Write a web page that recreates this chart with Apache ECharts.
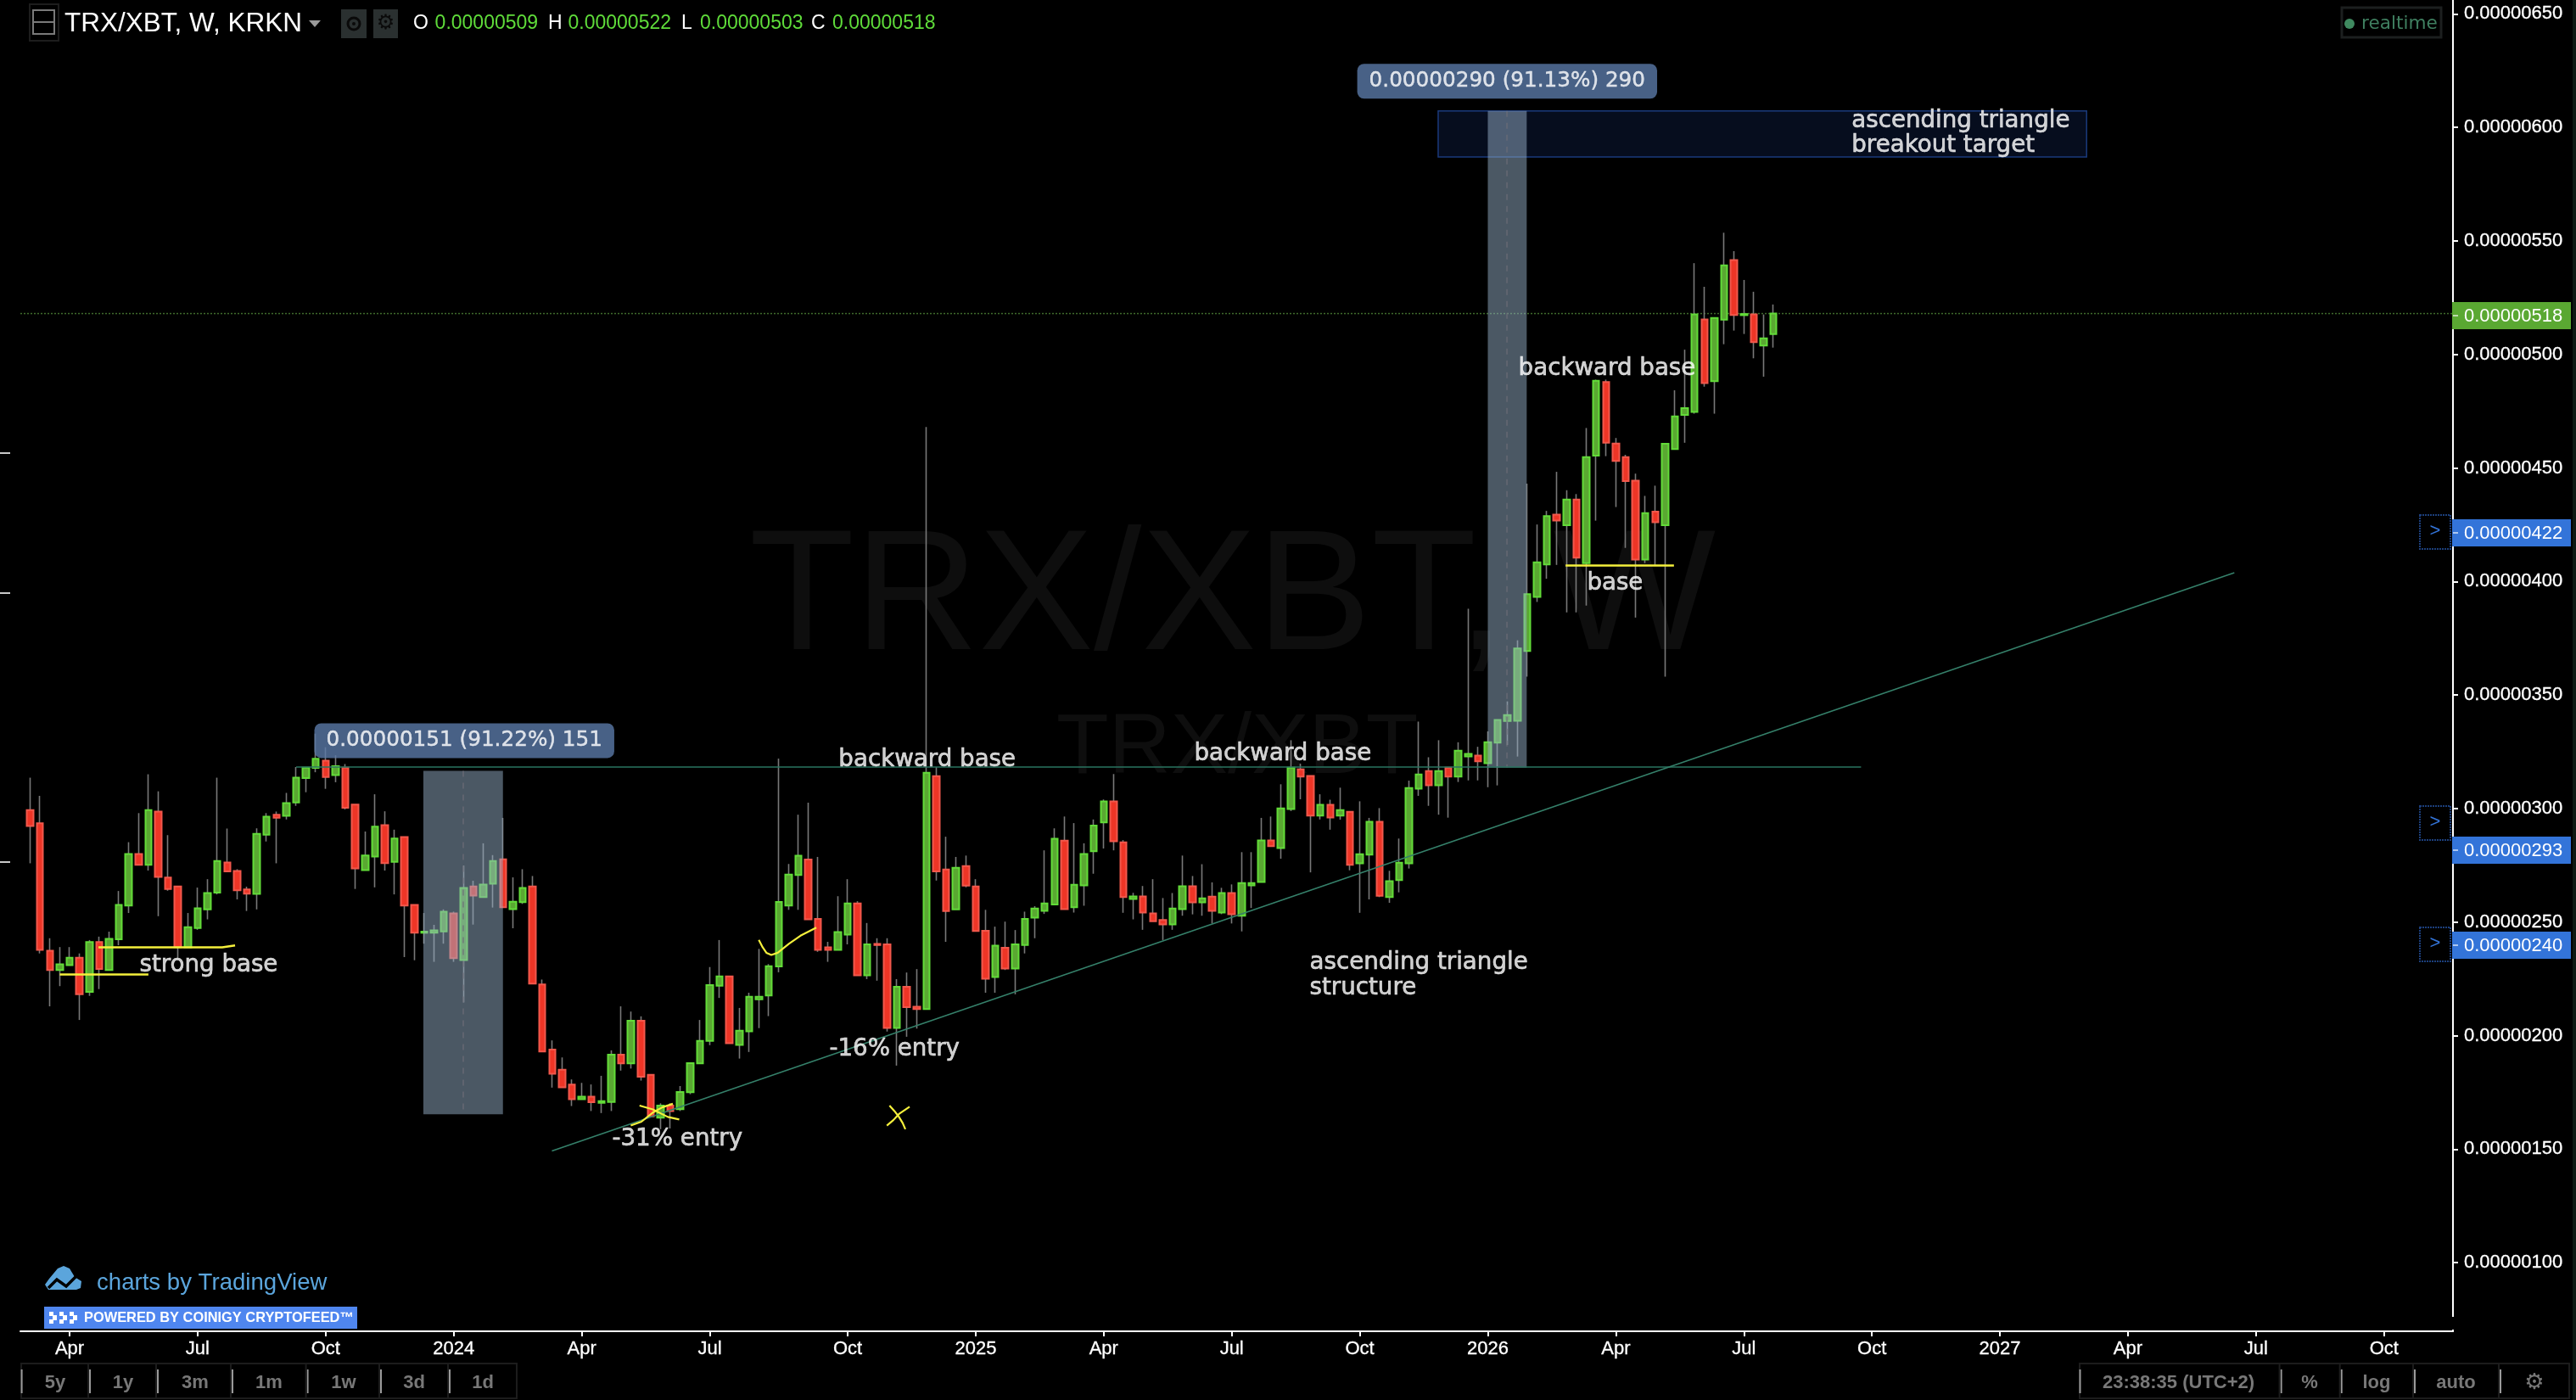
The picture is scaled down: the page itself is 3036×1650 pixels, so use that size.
<!DOCTYPE html>
<html><head><meta charset="utf-8">
<style>html,body{margin:0;padding:0;background:#000}#c{width:3036px;height:1650px}</style>
<script src="https://cdn.jsdelivr.net/npm/echarts@6/dist/echarts.min.js"></script>
</head><body><div id="c"></div>
<script>
// prices in units of 0.00000001 XBT; one candle per week
const opens = [
299.3,293.5,237.4,228.9,231,234.3,219.3,241.2,228.9,242.4,
257.3,280,275.2,298.7,269.6,265.7,238.9,247.4,255.6,263,
276.3,272.5,264.4,262.4,288.5,297.3,296.8,302.7,313.4,317.9,
321.1,314.7,318,301.8,272.9,278.9,292.7,276.5,287.5,257.6,
245.3,245.3,245.9,253.8,233.3,265.7,261,266.9,277.7,255.7,
258.8,265.7,222.5,193.9,185,178.4,172,173.1,170.4,170.8,
191.6,187.8,206.6,182.7,163.9,169.2,167.6,175.1,187.8,197.7,
222,226.1,195.9,201.9,216,217.7,230.5,257.3,270.7,277.6,
251.4,238.9,237.8,244.5,258.2,226.6,240.4,240.2,203.4,221.5,
212.7,211.7,314.3,273.2,255.6,274.7,265.7,246.2,225.8,238.7,
229.5,239.9,252,255,257.8,285.9,256.5,266.2,281.2,293.9,
303.2,285.1,260.2,261.3,253.8,250.9,249,255.7,265.8,258.7,
261.2,254.2,262.8,252.8,266.2,267.7,286,282.6,299.8,317.3,
314.4,296.9,301.7,296.9,298.6,275.9,279.7,294.2,261,268.5,
275.9,308.8,316.5,310.3,318,314.1,323,323.3,320,329,
338.6,338.7,369.4,393.2,407.5,429.5,424.8,436.1,408.1,455.4,
487.8,460.8,454.8,444.4,409.7,430.8,424.8,458.3,473.4,474.7,
515.4,488.2,515.3,541.6,517.3,517.6,503.9,509];
const closes = [
292.3,237.8,228.9,231.4,234.3,218.2,241.2,229.4,242.6,257.6,
280,275.2,299.3,269.9,264.6,239,247.8,256.1,262.8,276.9,
272.3,264,262.5,288.9,296.4,296,302.4,313.6,318,321.9,
313.9,318.7,300.4,273.6,279.3,292,276,286.8,257.3,245.3,
245.8,246.4,254.6,234.1,265,261.7,266.5,276.9,256.5,259,
265,222.9,193,183.2,177.2,172,173.1,170.7,171.2,191.6,
187.8,206.6,181.9,164.4,169.2,166.8,175.2,187.9,197.7,222.3,
226.1,196.7,202.2,217.1,217.1,230.6,258.9,270.9,279.2,251.2,
237.8,237.8,245.6,258.2,226.6,240.2,239.9,203.4,221.5,212.5,
211.7,315.8,272.3,254.9,273.9,266.1,246.1,225.1,239.6,229.5,
240.2,251.4,256,258.2,286.7,255.7,266.4,280,292.5,303.2,
285.6,261,261.3,254.2,250.4,249,256,265.8,258.7,260.5,
255,262.8,253.5,267.2,267.2,286,283.4,300.1,318,314.1,
296.9,301.7,296.1,299.3,275.2,279.9,294.2,261.6,268,276.2,
309,315,310.3,316.5,314.1,325.5,324.1,320.8,329.2,339,
341.2,370.5,394.4,408.4,428.8,426.8,436.1,410.5,454.8,488.4,
461.1,453.1,444.2,409.7,430.1,426.1,460.7,472.7,476.4,517.6,
487.4,516.1,539.2,517.4,517.8,505.4,507.1,518];
const highs = [
313.6,305.6,242.9,239,239,236.2,242.1,243.6,245.8,263.7,
285.2,298,315.1,307.6,288.3,265.7,254,265.2,268.9,313.6,
291.2,273.3,265.6,291.3,298,298.7,306.9,318.3,318.3,333,
327,323.5,319.6,301.8,289.9,306.3,298.8,290.7,287.5,257.6,
254,248.8,255.6,254.6,274.9,268.2,284.7,279.5,295.9,269.7,
273.3,270.3,224.7,197.9,190.4,180.7,179.2,178.5,182.3,193.5,
212.9,210.6,208.5,182.7,170.2,170.2,177.8,187.9,206.9,230.2,
242.1,226.1,212.2,218.9,238.2,231.5,322,275.6,297.3,302.6,
278.7,241.3,261.4,268.9,259.2,249.6,242.9,242.9,224.9,227.8,
229.3,468,318.3,287.6,278.7,279.3,268.9,255.4,248,250.2,
246.5,254.6,257,281.6,291.3,296.5,293.6,284.7,295.2,304,
315.2,286.1,262.9,265.9,268.9,260.6,262.8,279.3,270.3,275.5,
267.5,265.1,266.6,280.8,280.8,295.9,296.5,310.7,330.1,319.8,
314.4,306.3,303.9,309.2,298.6,303.2,295.9,300.2,272.6,286.8,
312.3,338.3,322.6,330.1,318,329.2,388,327.2,334,339,
347.2,374.1,443.1,425.1,431.1,448.3,440.2,438.5,467.6,488.9,
488.9,463.2,455.8,447.5,437.7,442.2,460.7,484.2,502.1,540.2,
529.8,516.1,553.6,545.5,532.8,527.6,517.6,522];
const lows = [
275.9,236.2,212.9,221.8,230.9,206.9,217.5,220.5,228.9,239.8,
254,275.2,272.7,252.6,263.8,234.2,238.9,246.6,251.2,262.2,
272.3,260,254.9,255.6,285.5,275.9,295.2,301.2,307.2,316,
308.7,311.6,299.6,264.6,272.9,265.3,272.7,262.2,234.6,233.2,
240.5,232.5,240.5,232.5,214.6,248.9,261,256.4,256.5,247.3,
258,222.9,193,177.1,177.2,169,172,166.8,165.9,166.8,
184.6,185.5,180.2,164.2,158.8,159.1,166.8,174.2,187.8,195.8,
216.6,196.7,189.9,192.8,203.3,208.6,227.9,255.4,255.4,251.2,
236.9,232.5,237.8,240.2,226.6,224.9,224.2,201.8,186.8,199.5,
203.1,211.7,268.3,241.3,255.6,265.3,246.1,218.9,218.9,228.9,
218.2,236.2,242.9,253.6,257.6,255.7,254.2,257.2,271.3,282.4,
281.6,254.1,251.2,246.6,250.4,242.1,246.6,252.8,253.4,252.8,
249.4,253.5,249.4,245.9,256.2,267.7,283.4,277.9,298.9,304.1,
271.9,295.2,290.7,295.1,272.8,254.1,260,261,258.5,263.1,
273.6,305.6,301.2,297.3,296,311.7,312.4,312.4,309.4,310.2,
328,322.9,358.1,391,401.2,407.3,386.4,386.4,389.4,426.8,
455.2,432.8,414.8,384.1,408.1,406.8,358.1,458.3,461.1,473.9,
485.8,473.9,504.5,510.5,509,498.3,490.2,503];

const seriesStart = '2023-02-27';      // leading empty week of the time scale
const weekCount = 248;
const monthNames = {3:'Apr',6:'Jul',9:'Oct'};
const tickValues = [100,150,200,250,300,350,400,450,500,550,600,650];
const tickLabels = ['0.00000100','0.00000150','0.00000200','0.00000250','0.00000300','0.00000350','0.00000400','0.00000450','0.00000500','0.00000550','0.00000600','0.00000650'];
const rangeButtons = ['5y','1y','3m','1m','1w','3d','1d'];

// annotation anchors: [week position, price]
const levelLine = [[28,318.3],[186.9,318.3]];
const trendLine = [[53.97,149.2],[224.8,403.9]];
const lastPriceLine = [[0,518],[247,518]];
const strongBaseLow = [[4,226.9],[13,226.9]];
const strongBaseHigh = [[7.93,238.9],[20.5,238.9],[21.8,239.7]];
const baseLine = [[156.9,407],[167.9,407]];
const swoosh = [[74.98,242.2],[75.37,238.9],[75.75,236.5],[76.25,235.5],[76.9,236.5],[78.06,240.5],[79.21,244],[80.82,247.6]];
const crossA1 = [[62.87,169.2],[64.21,167.5],[65.74,164.2],[66.9,163.1]];
const crossA2 = [[61.98,160.4],[63.06,162.1],[64.21,166.1],[65.17,168.4],[66.25,170]];
const crossB1 = [[88.25,169.2],[88.75,166.8],[89.21,164.2],[89.59,161.5],[89.86,158.8]];
const crossB2 = [[87.98,160.4],[88.64,162.8],[89.21,165.5],[90.29,168.7]];
const measureLeft = [[40.92,316.6],[49,165.4]];
const measureRight = [[149.0,607.2],[152.95,318]];
const targetBox = [[143.96,607.2],[209.8,587]];
const notes = [
 [12.06,231.1,'strong base'],[60.05,154.2,'-31% entry'],[82.1,193.9,'-16% entry'],
 [83.04,321.4,'backward base'],[119.15,323.8,'backward base'],[152.07,493.5,'backward base'],
 [159.03,399.2,'base'],[130.87,232.0,'ascending triangle'],[130.87,220.8,'structure'],
 [185.9,602.8,'ascending triangle'],[185.9,592.0,'breakout target']];
const measureLabels = [[29.81,329.9,'0.00000151 (91.22%) 151'],[135.7,620.3,'0.00000290 (91.13%) 290']];

const categories = [];
{ const d = new Date(seriesStart+'T00:00:00Z');
  for (let i=0;i<weekCount;i++){ categories.push(d.toISOString().slice(0,10)); d.setUTCDate(d.getUTCDate()+7); } }
function quarterLabel(s){
  const [y,m,day]=s.split('-').map(Number);
  if (day>7 || (m-1)%3!==0) return '';
  return m===1 ? String(y) : monthNames[m-1];
}
const isQuarter = (i,v)=>quarterLabel(v)!=='';

// the first category is an empty leading week, so candle i sits on category i+1
const wickData = opens.map((o,i)=>[i+1,o,closes[i],lows[i],highs[i]]);
const bodyData = opens.map((o,i)=>[i+1,o,closes[i],Math.min(o,closes[i]),Math.max(o,closes[i])]);

const UI = 'Liberation Sans, Arial, sans-serif';
const NOTE = '"DejaVu Sans", sans-serif';
const lineS = (pts,color,width,type,z)=>({type:'line',xAxisIndex:1,yAxisIndex:0,data:pts,showSymbol:false,symbol:'none',silent:true,z:z||8,animation:false,
  lineStyle:{color,width,type:type||'solid'}});
const areaS = (box,color,z,border)=>({type:'line',xAxisIndex:1,yAxisIndex:0,data:[],z,silent:true,animation:false,
  markArea:{silent:true,z,animation:false,itemStyle:{color,borderColor:border||'transparent',borderWidth:border?1.5:0},
    data:[[{xAxis:box[0][0],yAxis:box[0][1]},{xAxis:box[1][0],yAxis:box[1][1]}]]}});

const series = [
 {type:'candlestick',xAxisIndex:0,yAxisIndex:0,data:wickData,encode:{x:0,y:[1,2,3,4]},barWidth:1,z:2,silent:true,animation:false,
  itemStyle:{color:'#787878',color0:'#787878',borderColor:'#787878',borderColor0:'#787878',borderWidth:1.6}},
 {type:'candlestick',xAxisIndex:0,yAxisIndex:0,data:bodyData,encode:{x:0,y:[1,2,3,4]},barWidth:8,z:3,silent:true,animation:false,
  itemStyle:{color:'#5aa832',color0:'#ee3526',borderColor:'#62dc38',borderColor0:'#f2584c',borderWidth:2}},
 areaS(targetBox,'#060d1e',1,'#1a3a7c'),
 areaS(measureLeft,'rgba(150,176,200,0.5)',6),
 areaS(measureRight,'rgba(150,176,200,0.5)',6),
 lineS([[44.97,316.6],[44.97,165.4]],'rgba(110,110,120,0.6)',2,[7,7],7),
 lineS([[150.95,607.2],[150.95,318]],'rgba(110,110,120,0.6)',2,[7,7],7),
 lineS(lastPriceLine,'#3f6b2c',1.5,[2,2],1),
 lineS(levelLine,'#2a7560',1.6,'solid',8),
 lineS(trendLine,'#35806a',1.6,'solid',8),
 lineS(strongBaseLow,'#f5f03c',2.5),lineS(strongBaseHigh,'#f5f03c',2.5),lineS(baseLine,'#f5f03c',2.5),
 lineS(swoosh,'#f5f03c',2.2),lineS(crossA1,'#f5f03c',2.2),lineS(crossA2,'#f5f03c',2.2),
 lineS(crossB1,'#f5f03c',2.2),lineS(crossB2,'#f5f03c',2.2),
 {type:'scatter',xAxisIndex:1,yAxisIndex:0,data:notes,symbolSize:1,itemStyle:{color:'transparent'},silent:true,z:12,animation:false,
  label:{show:true,position:'right',distance:0,color:'#fff',textBorderColor:'#fff',textBorderWidth:0.6,fontFamily:NOTE,fontSize:27.7,formatter:p=>p.value[2]}},
 {type:'scatter',xAxisIndex:1,yAxisIndex:0,data:measureLabels,symbolSize:1,itemStyle:{color:'transparent'},silent:true,z:12,animation:false,
  label:{show:true,position:'right',distance:0,color:'#fff',textBorderColor:'#fff',textBorderWidth:0.4,fontFamily:NOTE,fontSize:24.7,backgroundColor:'#5a79a8',borderRadius:8,padding:[8,14],formatter:p=>p.value[2]}}
];

// interface furniture around the chart
const txt=(x,y,text,fill,size,opt)=>Object.assign({type:'text',z:100,silent:true,style:{x,y,text,fill,font:(opt&&opt.weight||'normal')+' '+size+'px '+(opt&&opt.fam||UI),textAlign:(opt&&opt.align)||'left',textVerticalAlign:(opt&&opt.va)||'middle'}},opt&&opt.z?{z:opt.z}:{});
const rect=(x,y,w,h,fill,opt)=>({type:'rect',z:(opt&&opt.z)||99,silent:true,shape:{x,y,width:w,height:h,r:(opt&&opt.r)||0},style:{fill:fill||'transparent',stroke:(opt&&opt.stroke)||null,lineWidth:(opt&&opt.lw)||0,lineDash:(opt&&opt.dash)||null}});
const g=[];
// watermarks
g.push({type:'text',z:0,silent:true,style:{x:883,y:811,text:'TRX/XBT, W',fill:'#0e0e0e',font:'203px '+UI,textVerticalAlign:'bottom'}});
g.push({type:'text',z:0,silent:true,style:{x:1245,y:934,text:'TRX/XBT',fill:'#0e0e0e',font:'101px '+UI,textVerticalAlign:'bottom'}});
// header
g.push(rect(35,5,34,43,null,{stroke:'#1d1d1d',lw:2}));
g.push(rect(39,12,25,28,null,{stroke:'#7a7a7a',lw:2}));
g.push(rect(39,25,25,2,'#7a7a7a'));
g.push(txt(76,28,'TRX/XBT, W, KRKN','#fff',31.5));
g.push({type:'polygon',z:100,silent:true,shape:{points:[[364,24],[378,24],[371,32]]},style:{fill:'#9a9a9a'}});
g.push(rect(402,11,30,34,'#2a3030'));
g.push({type:'circle',z:100,silent:true,shape:{cx:417,cy:28,r:7},style:{fill:'transparent',stroke:'#0a0a0a',lineWidth:3}});
g.push({type:'circle',z:100,silent:true,shape:{cx:417,cy:28,r:2},style:{fill:'#0a0a0a'}});
g.push(rect(440,11,29,34,'#2a3030'));
g.push(txt(454.5,28,'\u2699','#0a0a0a',24,{align:'center',fam:NOTE}));
[[487,'O'],[646,'H'],[803,'L'],[956,'C']].forEach(a=>g.push(txt(a[0],28,a[1],'#fff',23)));
[[512.6,'0.00000509'],[669.5,'0.00000522'],[825,'0.00000503'],[981,'0.00000518']].forEach(a=>g.push(txt(a[0],28,a[1],'#5fdc3a',23)));
// realtime
g.push(rect(2760,9,117,35,null,{stroke:'#1c1f1f',lw:3}));
g.push({type:'circle',z:100,silent:true,shape:{cx:2769,cy:28,r:6},style:{fill:'#3f8a60'}});
g.push(txt(2783,28,'realtime','#3f7f60',21.6,{fam:NOTE}));
// price flags on the axis
[[356,32,'#5aa832','0.00000518'],[612,32,'#3374d9','0.00000422'],[986,32,'#3374d9','0.00000293'],[1098,32,'#3374d9','0.00000240']].forEach(a=>{
  g.push(rect(2890,a[0],140,a[1],a[2]));
  g.push(rect(2891,a[0]+15,6,2,'rgba(255,255,255,0.6)',{z:100}));
  g.push(txt(2904,a[0]+16.5,a[3],'#fff',22));
});
[607,950,1093].forEach(y=>{
  g.push(rect(2852,y,36,40,null,{stroke:'#1c3f7c',lw:2,dash:[2,1]}));
  g.push(txt(2870,y+19,'>','#3374d9',22,{align:'center'}));
});
// gap between price axis and time axis
g.push(rect(2888,1552,6,15,'#000'));
// left edge marks
[534,699,1016].forEach(y=>g.push(rect(0,y-1,12,2,'#c8c8c8')));
// logo
g.push({type:'polygon',z:100,silent:true,shape:{points:[[57,1520],[53,1514],[58,1507],[68,1495],[75,1492],[82,1495],[88,1505],[96,1510],[95,1518],[90,1520]]},style:{fill:'#5ba5dc'}});
g.push({type:'polyline',z:101,silent:true,shape:{points:[[57,1518],[67,1508],[78,1516],[91,1503]]},style:{stroke:'#000',lineWidth:3.5,fill:null}});
g.push(txt(114,1512,'charts by TradingView','#5ba5dc',27.6));
g.push(rect(52,1540,369,26,'#4f86ef'));
[[58,1],[62,-1],[70,1],[74,-1],[82,1],[86,-1]].forEach(a=>{
  g.push(rect(a[0],1546+(a[1]>0?0:4),5,5,'#fff',{z:100}));
  g.push(rect(a[0],1555-(a[1]>0?0:4),5,5,'#fff',{z:100}));
});
g.push(txt(99,1553.5,'POWERED BY COINIGY CRYPTOFEED\u2122','#fff',16.4,{weight:'bold'}));
// range buttons
g.push(rect(25,1607,584,41,null,{stroke:'#1c1c1c',lw:2}));
[[24.6,65],[105,145],[185,230],[273,317],[361.6,405],[448,488],[529,569]].forEach((a,i)=>{
  g.push(rect(a[0],1614,2,28,'#9a9a9a'));
  if(i) g.push(rect(a[0]-2,1607,2,41,'#1c1c1c'));
  g.push(txt(a[1],1630,rangeButtons[i],'#787878',22,{align:'center',weight:'bold'}));
});
g.push(rect(2451,1607,577,41,null,{stroke:'#1c1c1c',lw:2}));
[2450.5,2687.6,2758.7,2845,2946].forEach((x,i)=>{
  g.push(rect(x,1614,2,28,'#9a9a9a'));
  if(i) g.push(rect(x-2,1607,2,41,'#1c1c1c'));
});
g.push(txt(2478,1630,'23:38:35 (UTC+2)','#787878',22,{weight:'bold'}));
g.push(txt(2722,1630,'%','#787878',22,{align:'center',weight:'bold'}));
g.push(txt(2801,1630,'log','#787878',22,{align:'center',weight:'bold'}));
g.push(txt(2894.5,1630,'auto','#787878',22,{align:'center',weight:'bold'}));
g.push(txt(2987,1630,'\u2699','#787878',26,{align:'center',fam:NOTE}));
// right edge sliver
g.push(rect(3032,0,4,1650,'#0e1a14'));

const chart = echarts.init(document.getElementById('c'),null,{width:3036,height:1650,renderer:'canvas'});
chart.setOption({
  animation:false,backgroundColor:'#000',
  grid:{left:24,right:145,top:0,bottom:81,containLabel:false},
  xAxis:[
   {type:'category',data:categories,boundaryGap:false,position:'bottom',
    axisLine:{show:true,onZero:false,lineStyle:{color:'#fff',width:2}},
    axisTick:{show:true,length:6,interval:isQuarter,lineStyle:{color:'#fff',width:2}},
    axisLabel:{show:true,interval:isQuarter,color:'#fff',textBorderColor:'#fff',textBorderWidth:0.3,fontFamily:UI,fontSize:22,margin:10,formatter:v=>quarterLabel(v),hideOverlap:false},
    splitLine:{show:false}},
   {type:'value',min:0,max:weekCount-1,show:false,position:'top',splitLine:{show:false}}
  ],
  yAxis:[{type:'value',position:'right',min:69.8,max:656.09,scale:true,
    axisLine:{show:true,onZero:false,lineStyle:{color:'#fff',width:2}},
    axisTick:{show:true,length:6,customValues:tickValues,lineStyle:{color:'#fff',width:2}},
    axisLabel:{show:true,customValues:tickValues,color:'#fff',textBorderColor:'#fff',textBorderWidth:0.3,fontFamily:UI,fontSize:22,margin:13,align:'left',padding:[3,0,0,0],
      formatter:v=>tickLabels[tickValues.indexOf(Math.round(v))]},
    splitLine:{show:false}}],
  tooltip:{show:false},legend:{show:false},
  series,
  graphic:{elements:g}
});
</script></body></html>
